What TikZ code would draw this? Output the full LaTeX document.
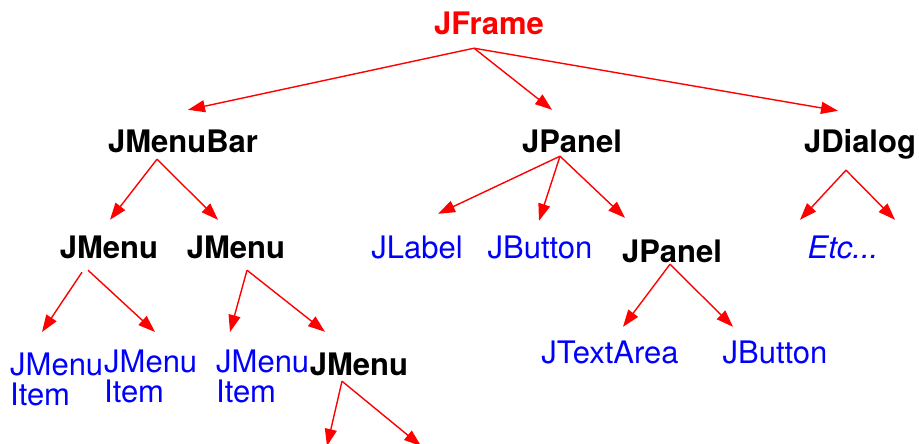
\documentclass[tikz,border=0pt]{standalone}
\usepackage{fontspec}
\setmainfont{TeX Gyre Heros}
\usetikzlibrary{arrows.meta}

\begin{document}
\begin{tikzpicture}[x=1pt,y=-1pt,
    >={Triangle[length=17pt,width=12pt]},
    every node/.style={inner sep=0pt,font=\fontsize{31}{30}\selectfont},
    cls/.style={anchor=base,text height=22pt,text depth=6pt,font=\fontsize{31}{30}\selectfont\bfseries},
    leaf/.style={anchor=base,text height=22pt,text depth=6pt,text=blue},
    item/.style={anchor=north west,align=left,text=blue}]
            \useasboundingbox (0,0) rectangle (919,444);

            \begin{scope}
                \node (frame)[cls,text=red] at (489,35) {JFrame};
                \node (menubar)[cls] at (183,152) {JMenuBar};
                \node (panel)[cls] at (572,152) {JPanel};
                \node (dialog)[cls] at (860,152) {JDialog};
                \node (menuA)[cls] at (109,258) {JMenu};
                \node (menuB)[cls] at (236,258) {JMenu};
                \node (label)[leaf] at (417,258) {JLabel};
                \node (button)[leaf] at (540,258) {JButton};
                \node (panelB)[cls] at (672,262) {JPanel};
                \node (etc)[leaf,font=\fontsize{31}{30}\selectfont\itshape] at (843,258) {Etc...};
                \node (itemA)[item] at (10,353) {JMenu\\Item};
                \node (itemB)[item] at (104,350) {JMenu\\Item};
                \node (itemC)[item] at (216,350) {JMenu\\Item};
                \node (menuC)[cls] at (359,375) {JMenu};
                \node (area)[leaf] at (610,363) {JTextArea};
                \node (buttonB)[leaf] at (775,363) {JButton};
                \coordinate (moreA) at (327,446);
                \coordinate (moreB) at (421,446);
            \end{scope}

            \begin{scope}[every edge/.style={draw,red,line width=1.4pt}]
                \path [->] ([shift={(-15,7)}]frame.south) edge ([shift={(5,-20)}]menubar.north)
                    edge ([shift={(-20,-20)}]panel.north)
                    edge ([shift={(-22,-19)}]dialog.north);
                \path [->] ([shift={(-26,1)}]menubar.south) edge ([shift={(1,-16)}]menuA.north)
                    edge ([shift={(-18,-16)}]menuB.north);
                \path [->] ([shift={(-12,-2)}]panel.south) edge ([shift={(21,-22)}]label.north)
                    edge ([shift={(-1,-15)}]button.north)
                    edge ([shift={(-47,-22)}]panelB.north);
                \path [->] ([shift={(-14,12)}]dialog.south) edge ([shift={(-43,-16)}]etc.north)
                    edge ([shift={(52,-16)}]etc.north);
                \path [->] ([shift={(-27,8)}]menuA.south) edge ([shift={(32,-21)}]itemA.north west);
                \path [->] ([shift={(-21,6)}]menuA.south) edge ([shift={(51,-18)}]itemB.north west);
                \path [->] ([shift={(11,6)}]menuB.south) edge ([shift={(14,-18)}]itemC.north west)
                    edge ([shift={(-34,-21)}]menuC.north);
                \path [->] ([shift={(-2,-4)}]panelB.south) edge ([shift={(13,-14)}]area.north)
                    edge ([shift={(-42,-14)}]buttonB.north);
                \path [->] ([shift={(-17,0)}]menuC.south) edge (moreA)
                    edge (moreB);
            \end{scope}
            \end{tikzpicture}
\end{document}
